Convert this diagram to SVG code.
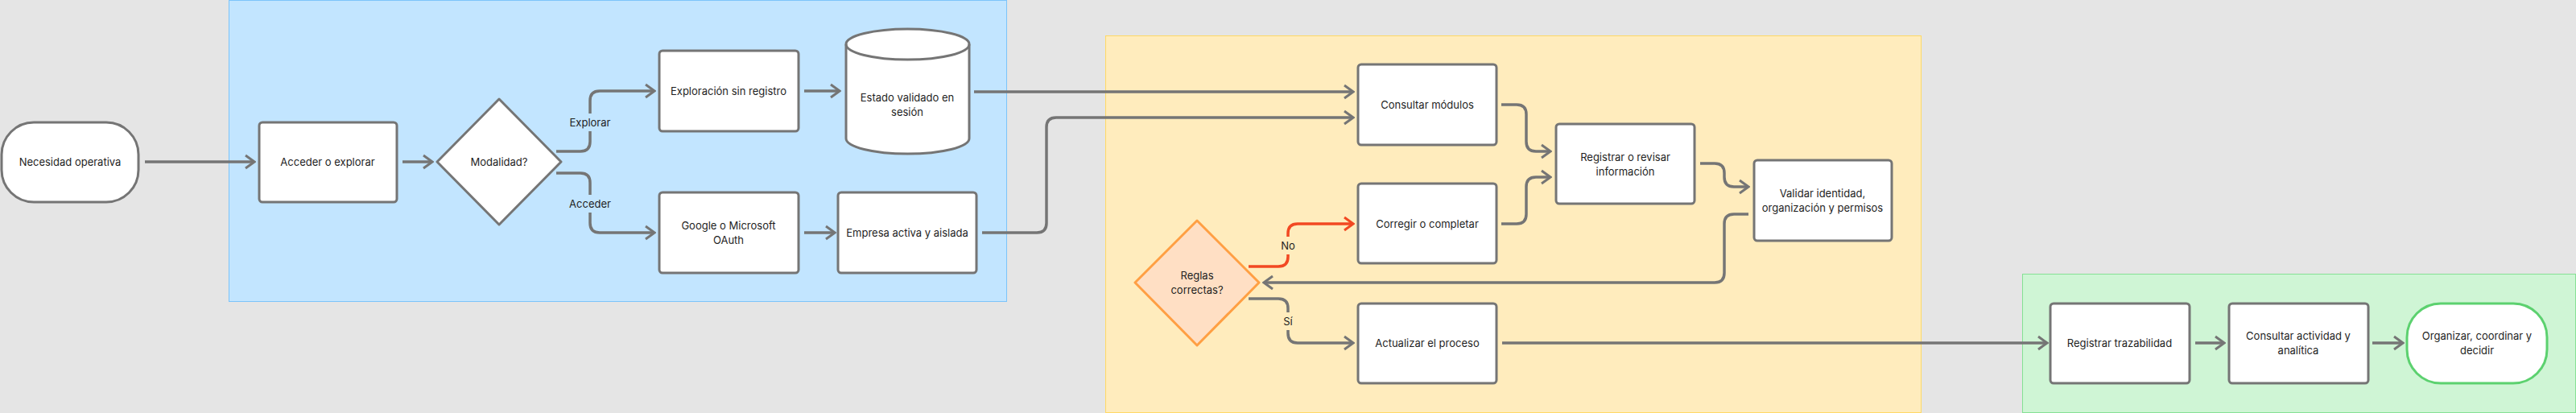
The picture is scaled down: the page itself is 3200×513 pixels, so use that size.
<svg xmlns="http://www.w3.org/2000/svg" width="3200" height="513" viewBox="0 0 3200 513">
<style>
.n{fill:#fff;stroke:#757575;stroke-width:3}
.t{font-family:Inter,"Liberation Sans",sans-serif;font-size:13px;fill:#1e1e1e;text-anchor:middle;dominant-baseline:central}
.c{fill:none;stroke:#757575;stroke-width:3.5}
.r{fill:none;stroke:#F24822;stroke-width:3.5}
</style>
<defs>
<marker id="a" markerUnits="userSpaceOnUse" viewBox="-14 -10 16 20" refX="0" refY="0" markerWidth="16" markerHeight="20" orient="auto"><path d="M-11 -8 L0 0 L-11 8" fill="none" stroke="#757575" stroke-width="3"/></marker>
<marker id="ar" markerUnits="userSpaceOnUse" viewBox="-14 -10 16 20" refX="0" refY="0" markerWidth="16" markerHeight="20" orient="auto"><path d="M-11 -8 L0 0 L-11 8" fill="none" stroke="#F24822" stroke-width="3"/></marker>
</defs>
<rect width="3200" height="513" fill="#E5E5E5"/>
<g id="panels">
<rect x="284.5" y="0.5" width="966" height="374" fill="#C2E5FF" stroke="#7CC4FA"/>
<rect x="1373.5" y="44.5" width="1013" height="468" fill="#FFECBD" stroke="#FFD966"/>
<rect x="2512.5" y="340.5" width="687" height="172" fill="#CFF5D5" stroke="#85E094"/>
</g>
<g id="connectors">
<path class="c" marker-end="url(#a)" d="M180 201 H316"/>
<path class="c" marker-end="url(#a)" d="M500 201 H537"/>
<path class="c" marker-end="url(#a)" d="M691 188 H721 Q733 188 733 176 V125 Q733 113 745 113 H813"/>
<path class="c" marker-end="url(#a)" d="M691 215 H721 Q733 215 733 227 V277 Q733 289 745 289 H813"/>
<path class="c" marker-end="url(#a)" d="M999 113 H1043"/>
<path class="c" marker-end="url(#a)" d="M999 289 H1037"/>
<path class="c" marker-end="url(#a)" d="M1210 114 H1681"/>
<path class="c" marker-end="url(#a)" d="M1220 289 H1288 Q1300 289 1300 277 V158 Q1300 146 1312 146 H1681"/>
<path class="c" marker-end="url(#a)" d="M1865 130 H1884 Q1896 130 1896 142 V176 Q1896 188 1908 188 H1926"/>
<path class="c" marker-end="url(#a)" d="M1865 278 H1884 Q1896 278 1896 266 V232 Q1896 220 1908 220 H1926"/>
<path class="c" marker-end="url(#a)" d="M2112 203 H2130 Q2142 203 2142 215 V220 Q2142 232 2154 232 H2172"/>
<path class="c" marker-end="url(#a)" d="M2172 266 H2154 Q2142 266 2142 278 V339 Q2142 351 2130 351 H1570"/>
<path class="r" marker-end="url(#ar)" d="M1551 331 H1588 Q1600 331 1600 319 V290 Q1600 278 1612 278 H1681"/>
<path class="c" marker-end="url(#a)" d="M1551 371 H1588 Q1600 371 1600 383 V414 Q1600 426 1612 426 H1681"/>
<path class="c" marker-end="url(#a)" d="M1866 426 H2543"/>
<path class="c" marker-end="url(#a)" d="M2727 426 H2763"/>
<path class="c" marker-end="url(#a)" d="M2947 426 H2985"/>
<rect x="710" y="141" width="46" height="22" fill="#C2E5FF"/>
<text class="t" x="733" y="152">Explorar</text>
<rect x="710" y="242" width="46" height="22" fill="#C2E5FF"/>
<text class="t" x="733" y="253">Acceder</text>
<rect x="1588" y="294" width="24" height="22" fill="#FFECBD"/>
<text class="t" x="1600" y="305">No</text>
<rect x="1588" y="388" width="24" height="22" fill="#FFECBD"/>
<text class="t" x="1600" y="399">Sí</text>
</g>
<g id="n1"><rect class="n" x="2" y="152" width="170" height="99" rx="40"/><text class="t" x="87" y="201">Necesidad operativa</text></g>
<g id="n2"><rect class="n" x="322" y="152" width="171" height="99" rx="4"/><text class="t" x="407" y="201">Acceder o explorar</text></g>
<g id="n3"><path class="n" d="M620 123 L697 201 L620 279 L543 201 Z" stroke-linejoin="round"/><text class="t" x="620" y="201">Modalidad?</text></g>
<g id="n4"><rect class="n" x="819" y="63" width="173" height="100" rx="4"/><text class="t" x="905" y="113">Exploración sin registro</text></g>
<g id="n5"><path class="n" d="M1051 55 A76.5 19 0 0 1 1204 55 V172 A76.5 19 0 0 1 1051 172 Z"/><path d="M1051 55 A76.5 19 0 0 0 1204 55" fill="none" stroke="#757575" stroke-width="3"/><text class="t" x="1127" y="121">Estado validado en</text><text class="t" x="1127" y="139">sesión</text></g>
<g id="n6"><rect class="n" x="819" y="239" width="173" height="100" rx="4"/><text class="t" x="905" y="280">Google o Microsoft</text><text class="t" x="905" y="298">OAuth</text></g>
<g id="n7"><rect class="n" x="1041" y="239" width="172" height="100" rx="4"/><text class="t" x="1127" y="289">Empresa activa y aislada</text></g>
<g id="n8"><rect class="n" x="1687" y="80" width="172" height="100" rx="4"/><text class="t" x="1773" y="130">Consultar módulos</text></g>
<g id="n9"><rect class="n" x="1933" y="154" width="172" height="99" rx="4"/><text class="t" x="2019" y="195">Registrar o revisar</text><text class="t" x="2019" y="213">información</text></g>
<g id="n10"><rect class="n" x="1687" y="228" width="172" height="99" rx="4"/><text class="t" x="1773" y="278">Corregir o completar</text></g>
<g id="n11"><rect class="n" x="2179" y="199" width="171" height="100" rx="4"/><text class="t" x="2264" y="240">Validar identidad,</text><text class="t" x="2264" y="258">organización y permisos</text></g>
<g id="n12"><path d="M1487 274 L1564 351 L1487 429 L1410 351 Z" fill="#FFDFC4" stroke="#FF9F43" stroke-width="3" stroke-linejoin="round"/><text class="t" x="1487" y="342">Reglas</text><text class="t" x="1487" y="360">correctas?</text></g>
<g id="n13"><rect class="n" x="1687" y="377" width="172" height="99" rx="4"/><text class="t" x="1773" y="426">Actualizar el proceso</text></g>
<g id="n14"><rect class="n" x="2547" y="377" width="173" height="99" rx="4"/><text class="t" x="2633" y="426">Registrar trazabilidad</text></g>
<g id="n15"><rect class="n" x="2769" y="377" width="173" height="99" rx="4"/><text class="t" x="2855" y="417">Consultar actividad y</text><text class="t" x="2855" y="435">analítica</text></g>
<g id="n16"><rect x="2990" y="377" width="174" height="99" rx="42" fill="#fff" stroke="#5CD16F" stroke-width="3"/><text class="t" x="3077" y="417">Organizar, coordinar y</text><text class="t" x="3077" y="435">decidir</text></g>
</svg>
